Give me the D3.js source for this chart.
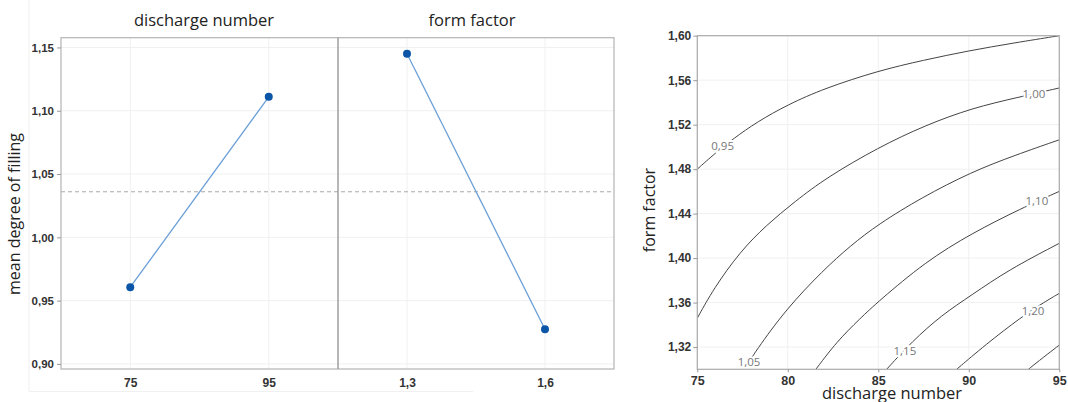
<!DOCTYPE html>
<html>
<head>
<meta charset="utf-8">
<script src="https://cdn.jsdelivr.net/npm/d3@7"></script>
<style>
  body { margin: 0; background: #fff; }
  svg { font-family: "Open Sans", "Noto Sans", sans-serif; }
  .tick text { font-size: 11.5px; font-weight: 600; fill: #333; }
</style>
</head>
<body>
<div id="chart"></div>
<script>
// main effects data
const dischargeLevels = ["75", "95"];
const dischargeMeans = [0.9606, 1.1110];
const formLevels = ["1,3", "1,6"];
const formMeans = [1.1450, 0.9274];
const grandMean = 1.036;
const mainTicks = [0.90, 0.95, 1.00, 1.05, 1.10, 1.15];

// contour plot data (discharge number, form factor)
const contour095 = [[75,1.480],[76,1.4945],[77,1.5075],[78.3,1.5225],[80,1.538],[82,1.5525],[85,1.5685],[87.5,1.578],[90,1.5865],[92.5,1.5935],[95,1.600]];
const contour100 = [[75,1.346],[75.9,1.3725],[77.35,1.4055],[78.8,1.4295],[80.4,1.451],[82.15,1.4725],[85,1.4995],[87.6,1.5195],[90.2,1.535],[92.7,1.5445],[95,1.553]];
const contour105 = [[77.6,1.300],[78.2,1.3158],[79.9,1.354],[81.95,1.389],[83.45,1.411],[85,1.4305],[87.4,1.4545],[90.15,1.4775],[92.55,1.4925],[95,1.5064]];
const contour110 = [[81.55,1.300],[82.7,1.3248],[84,1.3458],[85,1.361],[87.6,1.3967],[90.15,1.4222],[92.9,1.4447],[95,1.460]];
const contour115 = [[85.46,1.300],[86.85,1.3248],[88.5,1.3488],[90.16,1.3668],[92.18,1.3893],[95,1.4133]];
const contour120 = [[89.33,1.300],[90.9,1.3218],[92.92,1.3473],[94.21,1.3608],[95,1.3683]];
const contour125 = [[93.29,1.300],[94.1,1.3105],[95,1.3218]];
const contourLabels = [
    { text: "0,95", x: 76.4, y: 1.5007 },
    { text: "1,00", x: 93.6, y: 1.5475 },
    { text: "1,05", x: 77.86, y: 1.3066 },
    { text: "1,10", x: 93.76, y: 1.4514 },
    { text: "1,15", x: 86.47, y: 1.3165 },
    { text: "1,20", x: 93.55, y: 1.3524 }
];
const ffTicks = [1.32, 1.36, 1.40, 1.44, 1.48, 1.52, 1.56, 1.60];
const dnTicks = [75, 80, 85, 90, 95];

const comma = d => d.toFixed(2).replace(".", ",");

const svg = d3.select("#chart").append("svg")
    .attr("width", 1068)
    .attr("height", 402);

svg.append("rect").attr("width", 1068).attr("height", 402).attr("fill", "#fff");

// ---------- left: main effects plot ----------
const left = { x0: 61, x1: 614, mid: 338, top: 37.7, bottom: 369 };

// faint outer frame
svg.append("path")
    .attr("d", `M29,0 L29,391.5 L473,391.5`)
    .attr("fill", "none")
    .attr("stroke", "#f0f0f0");

const yMain = d3.scaleLinear()
    .domain([0.896, 1.1577])
    .range([left.bottom, left.top]);

const facets = [
    { title: "discharge number", levels: dischargeLevels, means: dischargeMeans, x0: left.x0, x1: left.mid, tx: 204 },
    { title: "form factor", levels: formLevels, means: formMeans, x0: left.mid, x1: left.x1, tx: 472 }
];

// horizontal grid
svg.append("g").selectAll("line")
    .data(mainTicks)
    .join("line")
    .attr("x1", left.x0).attr("x2", left.x1)
    .attr("y1", d => yMain(d)).attr("y2", d => yMain(d))
    .attr("stroke", "#f0f0f0");

facets.forEach(f => {
    const x = d3.scalePoint()
        .domain(f.levels)
        .range([f.x0, f.x1])
        .padding(0.5);

    svg.append("g").selectAll("line")
        .data(f.levels)
        .join("line")
        .attr("x1", d => x(d)).attr("x2", d => x(d))
        .attr("y1", left.top).attr("y2", left.bottom)
        .attr("stroke", "#f0f0f0");

    const ax = svg.append("g")
        .attr("transform", `translate(0, ${left.bottom})`)
        .call(d3.axisBottom(x).tickSize(0).tickPadding(9));
    ax.select(".domain").remove();
    ax.selectAll(".tick text").style("font-size", "12px");

    svg.append("text")
        .attr("x", f.tx)
        .attr("y", 26)
        .attr("text-anchor", "middle")
        .style("font-size", "16.5px")
        .style("fill", "#222")
        .text(f.title);

    f.x = x;
});

// grand mean reference
svg.append("line")
    .attr("x1", left.x0).attr("x2", left.x1)
    .attr("y1", yMain(grandMean)).attr("y2", yMain(grandMean))
    .attr("stroke", "#aaa")
    .attr("stroke-dasharray", "4,3");

facets.forEach(f => {
    const pts = f.levels.map((l, i) => [f.x(l), yMain(f.means[i])]);
    svg.append("path")
        .attr("d", d3.line()(pts))
        .attr("fill", "none")
        .attr("stroke", "#6a9fd8")
        .attr("stroke-width", 1.3);
    svg.append("g").selectAll("circle")
        .data(pts)
        .join("circle")
        .attr("cx", d => d[0]).attr("cy", d => d[1])
        .attr("r", 4)
        .attr("fill", "#0b55a8");
});

// frame
svg.append("rect")
    .attr("x", left.x0).attr("y", left.top)
    .attr("width", left.x1 - left.x0).attr("height", left.bottom - left.top)
    .attr("fill", "none")
    .attr("stroke", "#b4b4b4")
    .attr("stroke-width", 1.2);
svg.append("line")
    .attr("x1", left.mid).attr("x2", left.mid)
    .attr("y1", left.top).attr("y2", left.bottom)
    .attr("stroke", "#999")
    .attr("stroke-width", 1.4);

const yAx = svg.append("g")
    .attr("transform", `translate(${left.x0}, 0)`)
    .call(d3.axisLeft(yMain).tickValues(mainTicks).tickFormat(comma).tickSize(4).tickPadding(3));
yAx.select(".domain").remove();
yAx.selectAll(".tick line").attr("stroke", "#999");

svg.append("text")
    .attr("transform", "translate(20, 214) rotate(-90)")
    .attr("text-anchor", "middle")
    .style("font-size", "16px")
    .style("fill", "#222")
    .text("mean degree of filling");

// ---------- right: contour plot ----------
const cp = { left: 697.3, right: 1059.3, top: 35.7, bottom: 369.3 };

const xC = d3.scaleLinear().domain([75, 95]).range([cp.left, cp.right]);
const yC = d3.scaleLinear().domain([1.30, 1.60]).range([cp.bottom, cp.top]);

svg.append("g").selectAll("line")
    .data(ffTicks)
    .join("line")
    .attr("x1", cp.left).attr("x2", cp.right)
    .attr("y1", d => yC(d)).attr("y2", d => yC(d))
    .attr("stroke", "#f0f0f0");
svg.append("g").selectAll("line")
    .data(dnTicks)
    .join("line")
    .attr("x1", d => xC(d)).attr("x2", d => xC(d))
    .attr("y1", cp.top).attr("y2", cp.bottom)
    .attr("stroke", "#f0f0f0");

svg.append("clipPath").attr("id", "cpclip")
    .append("rect")
    .attr("x", cp.left).attr("y", cp.top)
    .attr("width", cp.right - cp.left).attr("height", cp.bottom - cp.top);

const contourLine = d3.line()
    .x(d => xC(d[0]))
    .y(d => yC(d[1]))
    .curve(d3.curveBasis);

svg.append("g")
    .attr("clip-path", "url(#cpclip)")
    .selectAll("path")
    .data([contour095, contour100, contour105, contour110, contour115, contour120, contour125])
    .join("path")
    .attr("d", contourLine)
    .attr("fill", "none")
    .attr("stroke", "#444")
    .attr("stroke-width", 1);

svg.append("g").selectAll("text")
    .data(contourLabels)
    .join("text")
    .attr("x", d => xC(d.x))
    .attr("y", d => yC(d.y) + 4)
    .attr("text-anchor", "middle")
    .style("font-size", "11.5px")
    .style("fill", "#777")
    .style("stroke", "#fff")
    .style("stroke-width", 4)
    .style("paint-order", "stroke")
    .text(d => d.text);

svg.append("rect")
    .attr("x", cp.left).attr("y", cp.top)
    .attr("width", cp.right - cp.left).attr("height", cp.bottom - cp.top)
    .attr("fill", "none")
    .attr("stroke", "#aaa")
    .attr("stroke-width", 1.2);

const yCAx = svg.append("g")
    .attr("transform", `translate(${cp.left}, 0)`)
    .call(d3.axisLeft(yC).tickValues(ffTicks).tickFormat(comma).tickSize(4).tickPadding(2));
yCAx.select(".domain").remove();
yCAx.selectAll(".tick line").attr("stroke", "#999");
yCAx.selectAll(".tick text").style("font-size", "12px");

const xCAx = svg.append("g")
    .attr("transform", `translate(0, ${cp.bottom})`)
    .call(d3.axisBottom(xC).tickValues(dnTicks).tickSize(3).tickPadding(4));
xCAx.select(".domain").remove();
xCAx.selectAll(".tick line").attr("stroke", "#999");
xCAx.selectAll(".tick text").style("font-size", "12.5px");

svg.append("text")
    .attr("x", 892)
    .attr("y", 399)
    .attr("text-anchor", "middle")
    .style("font-size", "16.5px")
    .style("fill", "#222")
    .text("discharge number");

svg.append("text")
    .attr("transform", "translate(655, 210) rotate(-90)")
    .attr("text-anchor", "middle")
    .style("font-size", "16px")
    .style("fill", "#222")
    .text("form factor");
</script>
</body>
</html>
